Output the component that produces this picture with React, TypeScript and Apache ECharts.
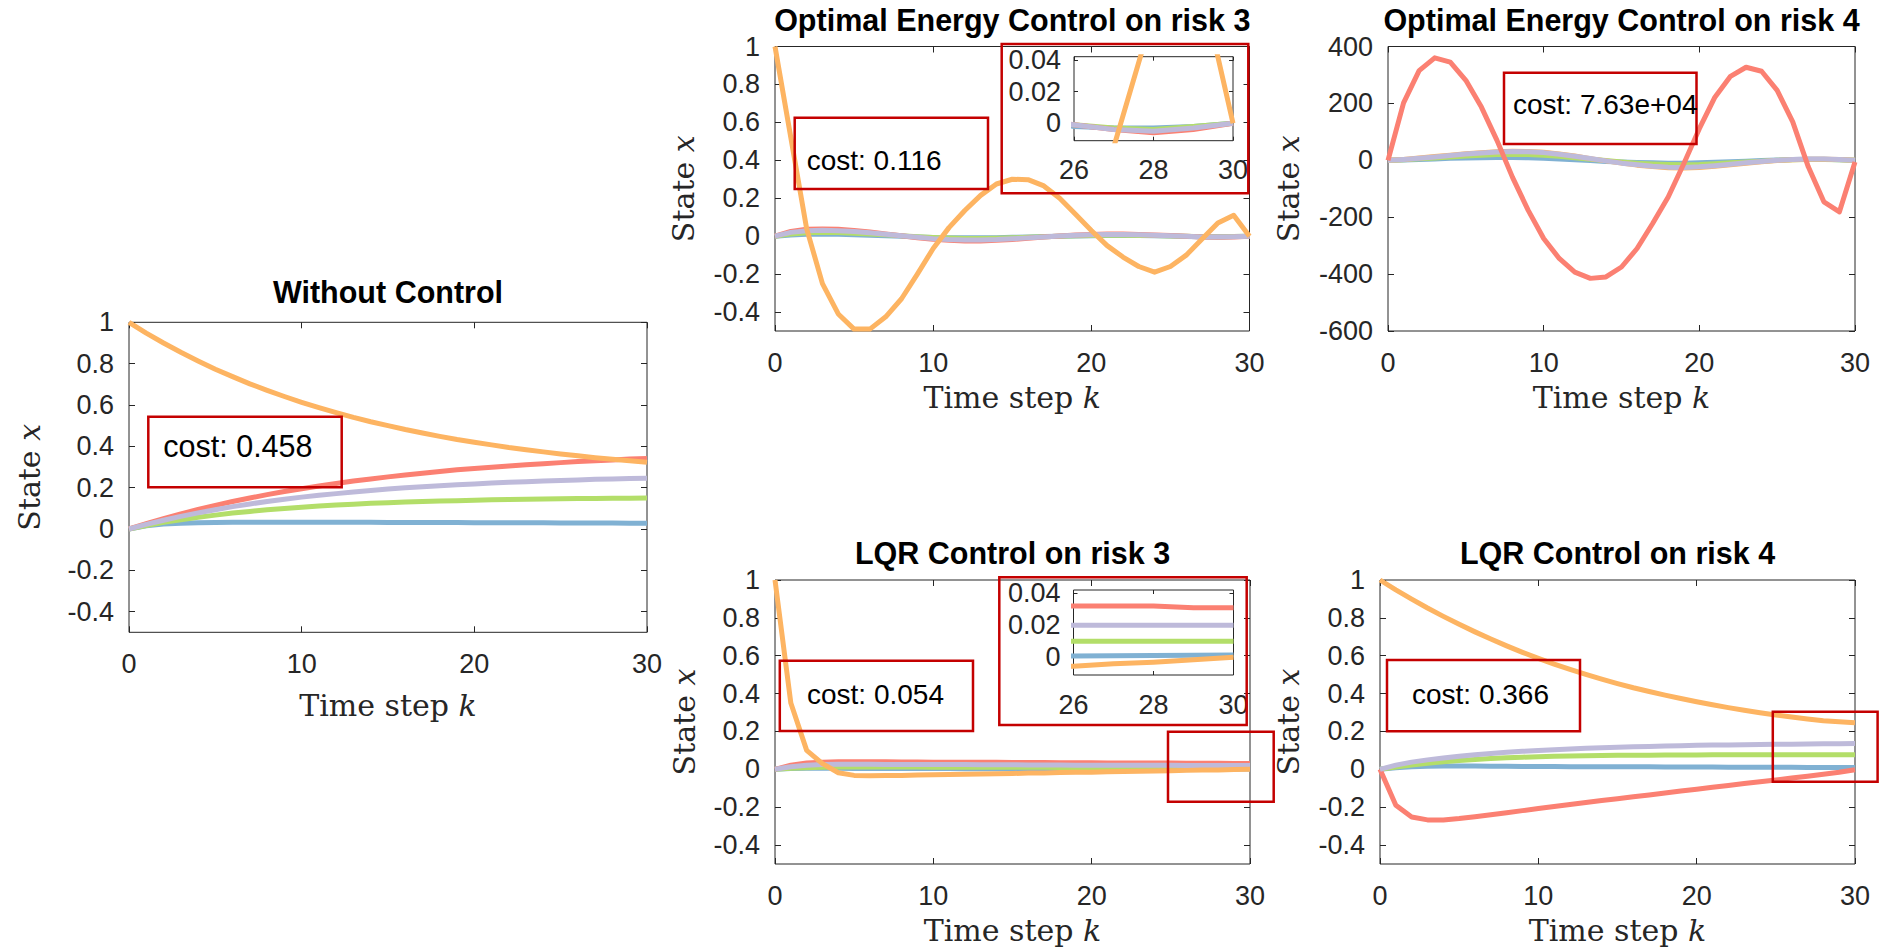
import React, { useEffect, useRef } from "react";
import * as echarts from "echarts";

// ---- data -------------------------------------------------------------
const steps = [0, 1, 2, 3, 4, 5, 6, 7, 8, 9, 10, 11, 12, 13, 14, 15, 16, 17, 18, 19, 20, 21, 22, 23, 24, 25, 26, 27, 28, 29, 30];

const stepTicks = [0, 10, 20, 30];
const unitTicks = [-0.4, -0.2, 0, 0.2, 0.4, 0.6, 0.8, 1];
const bigTicks = [-600, -400, -200, 0, 200, 400];
const zoomStepTicks = [26, 28, 30];
const zoomTicks = [0, 0.02, 0.04];

const titles = [
  "Without Control",
  "Optimal Energy Control on risk 3",
  "Optimal Energy Control on risk 4",
  "LQR Control on risk 3",
  "LQR Control on risk 4",
];
const costs = ["0.458", "0.116", "7.63e+04", "0.054", "0.366"];

// Without control
const freeBlue = [0, 0.015, 0.024, 0.028, 0.03, 0.031, 0.032, 0.032, 0.032, 0.032, 0.032, 0.032, 0.032, 0.032, 0.032, 0.031, 0.031, 0.031, 0.031, 0.031, 0.03, 0.03, 0.03, 0.03, 0.03, 0.029, 0.029, 0.029, 0.029, 0.028, 0.028];
const freeGreen = [0, 0.017, 0.032, 0.045, 0.057, 0.067, 0.077, 0.085, 0.093, 0.099, 0.105, 0.111, 0.116, 0.12, 0.124, 0.127, 0.13, 0.133, 0.135, 0.137, 0.139, 0.141, 0.142, 0.144, 0.145, 0.146, 0.147, 0.148, 0.149, 0.149, 0.15];
const freeRed = [0, 0.026, 0.05, 0.073, 0.094, 0.114, 0.133, 0.15, 0.166, 0.181, 0.195, 0.208, 0.22, 0.232, 0.242, 0.252, 0.261, 0.27, 0.278, 0.286, 0.293, 0.299, 0.305, 0.311, 0.316, 0.321, 0.326, 0.33, 0.334, 0.338, 0.341];
const freePurple = [0, 0.022, 0.042, 0.061, 0.078, 0.093, 0.108, 0.121, 0.133, 0.144, 0.154, 0.163, 0.171, 0.179, 0.186, 0.193, 0.199, 0.204, 0.209, 0.214, 0.218, 0.222, 0.226, 0.229, 0.232, 0.235, 0.237, 0.24, 0.242, 0.244, 0.245];
const freeOrange = [1, 0.948, 0.9, 0.855, 0.813, 0.773, 0.737, 0.702, 0.671, 0.641, 0.613, 0.587, 0.563, 0.54, 0.519, 0.5, 0.481, 0.464, 0.448, 0.433, 0.42, 0.407, 0.394, 0.383, 0.373, 0.363, 0.354, 0.345, 0.337, 0.33, 0.323];

// Optimal energy control on risk 3
const energy3Blue = [0, 0.006, 0.01, 0.011, 0.01, 0.008, 0.005, 0.002, -0.001, -0.004, -0.007, -0.008, -0.009, -0.009, -0.008, -0.006, -0.004, -0.002, 0, 0.001, 0.002, 0.003, 0.003, 0.003, 0.002, 0.001, -0.002, -0.003, -0.003, -0.002, 0];
const energy3Green = [0, 0.012, 0.018, 0.02, 0.019, 0.016, 0.012, 0.007, 0.002, -0.003, -0.007, -0.01, -0.012, -0.012, -0.011, -0.009, -0.006, -0.003, 0, 0.002, 0.004, 0.005, 0.005, 0.004, 0.003, 0.001, -0.001, -0.003, -0.004, -0.002, 0];
const energy3Red = [0, 0.025, 0.036, 0.038, 0.036, 0.03, 0.022, 0.012, 0.002, -0.008, -0.016, -0.022, -0.025, -0.025, -0.022, -0.017, -0.011, -0.005, 0.001, 0.006, 0.009, 0.011, 0.011, 0.009, 0.006, 0.003, -0.001, -0.004, -0.006, -0.004, 0];
const energy3Purple = [0, 0.02, 0.029, 0.031, 0.029, 0.024, 0.018, 0.01, 0.002, -0.006, -0.013, -0.018, -0.02, -0.02, -0.018, -0.014, -0.009, -0.004, 0.001, 0.005, 0.007, 0.009, 0.009, 0.007, 0.005, 0.002, -0.001, -0.004, -0.005, -0.003, 0];
const energy3Orange = [1, 0.52, 0.04, -0.25, -0.41, -0.49, -0.49, -0.425, -0.33, -0.2, -0.065, 0.045, 0.135, 0.215, 0.275, 0.3, 0.298, 0.265, 0.2, 0.115, 0.03, -0.05, -0.11, -0.16, -0.19, -0.16, -0.1, -0.015, 0.07, 0.11, 0];

// Optimal energy control on risk 4
const energy4Blue = [0, 1, 3, 5, 7, 8, 9, 10, 10, 9, 7, 5, 2, -1, -4, -6, -8, -9, -10, -10, -9, -7, -5, -3, -1, 1, 3, 4, 4, 2, 0];
const energy4Green = [0, 2, 5, 8, 12, 15, 18, 20, 21, 20, 18, 14, 9, 4, -1, -6, -10, -13, -15, -16, -15, -12, -9, -6, -3, 0, 2, 3, 3, 2, 0];
const energy4Orange = [0, 3, 8, 13, 18, 23, 27, 30, 32, 31, 28, 22, 15, 6, -2, -10, -17, -22, -26, -27, -25, -21, -16, -10, -5, -1, 2, 4, 4, 3, 0];
const energy4Purple = [0, 3, 7, 12, 17, 22, 26, 29, 31, 30, 27, 21, 14, 6, -2, -10, -16, -21, -24, -25, -23, -19, -14, -9, -4, 0, 3, 5, 5, 3, 0];
const energy4Red = [0, 202, 315, 360, 345, 281, 187, 70, -60, -175, -275, -345, -393, -415, -410, -375, -310, -222, -129, -12, 111, 222, 295, 327, 313, 246, 135, -23, -146, -181, -6];

// LQR control on risk 3
const lqr3Blue = [0, 0.004, 0.006, 0.006, 0.006, 0.005, 0.005, 0.005, 0.004, 0.004, 0.004, 0.004, 0.003, 0.003, 0.003, 0.003, 0.003, 0.002, 0.002, 0.002, 0.002, 0.002, 0.002, 0.001, 0.001, 0.001, 0.0008, 0.001, 0.0011, 0.0013, 0.0015];
const lqr3Green = [0, 0.006, 0.009, 0.011, 0.012, 0.012, 0.012, 0.012, 0.012, 0.012, 0.011, 0.011, 0.011, 0.011, 0.011, 0.011, 0.011, 0.011, 0.01, 0.01, 0.01, 0.01, 0.01, 0.01, 0.01, 0.01, 0.01, 0.01, 0.01, 0.01, 0.01];
const lqr3Red = [0, 0.022, 0.033, 0.038, 0.04, 0.04, 0.04, 0.04, 0.039, 0.039, 0.038, 0.038, 0.038, 0.037, 0.037, 0.036, 0.036, 0.036, 0.035, 0.035, 0.035, 0.034, 0.034, 0.034, 0.033, 0.033, 0.032, 0.032, 0.032, 0.031, 0.031];
const lqr3Purple = [0, 0.014, 0.022, 0.026, 0.027, 0.027, 0.027, 0.026, 0.026, 0.026, 0.025, 0.025, 0.025, 0.024, 0.024, 0.024, 0.023, 0.023, 0.023, 0.022, 0.022, 0.022, 0.021, 0.021, 0.021, 0.021, 0.02, 0.02, 0.02, 0.02, 0.02];
const lqr3Orange = [1, 0.35, 0.1, 0.03, -0.018, -0.032, -0.034, -0.033, -0.032, -0.03, -0.029, -0.027, -0.026, -0.024, -0.023, -0.022, -0.02, -0.019, -0.017, -0.016, -0.015, -0.013, -0.012, -0.01, -0.009, -0.007, -0.0055, -0.004, -0.003, -0.0015, 0];

// LQR control on risk 4
const lqr4Blue = [0, 0.008, 0.013, 0.016, 0.017, 0.017, 0.017, 0.016, 0.016, 0.015, 0.015, 0.015, 0.014, 0.014, 0.014, 0.013, 0.013, 0.013, 0.012, 0.012, 0.012, 0.012, 0.011, 0.011, 0.011, 0.011, 0.011, 0.01, 0.01, 0.01, 0.01];
const lqr4Green = [0, 0.012, 0.023, 0.032, 0.04, 0.047, 0.052, 0.057, 0.061, 0.064, 0.067, 0.069, 0.071, 0.072, 0.073, 0.074, 0.075, 0.075, 0.076, 0.076, 0.076, 0.077, 0.077, 0.077, 0.077, 0.077, 0.077, 0.077, 0.077, 0.077, 0.077];
const lqr4Red = [0, -0.19, -0.252, -0.267, -0.268, -0.26, -0.25, -0.24, -0.229, -0.218, -0.207, -0.196, -0.186, -0.175, -0.165, -0.155, -0.145, -0.135, -0.125, -0.115, -0.105, -0.095, -0.085, -0.075, -0.066, -0.056, -0.046, -0.036, -0.026, -0.015, -0.002];
const lqr4Purple = [0, 0.022, 0.038, 0.05, 0.06, 0.069, 0.077, 0.084, 0.09, 0.095, 0.1, 0.104, 0.108, 0.111, 0.114, 0.117, 0.119, 0.121, 0.123, 0.125, 0.127, 0.128, 0.129, 0.13, 0.131, 0.132, 0.133, 0.134, 0.135, 0.135, 0.136];
const lqr4Orange = [1, 0.948, 0.899, 0.852, 0.808, 0.766, 0.726, 0.688, 0.652, 0.618, 0.586, 0.556, 0.528, 0.501, 0.476, 0.453, 0.431, 0.411, 0.392, 0.374, 0.357, 0.341, 0.326, 0.312, 0.299, 0.287, 0.276, 0.266, 0.257, 0.251, 0.246];

// ---- styles -----------------------------------------------------------
const BLUE = "#80B1D3";
const GREEN = "#B3DE69";
const RED = "#FB8072";
const PURPLE = "#BEBADA";
const ORANGE = "#FDB462";
const AXIS = "#262626";
const BOX = "#C40000";
const SANS = "'Liberation Sans', Arial, Helvetica, sans-serif";
const SERIF = "'DejaVu Serif', serif";

type Line = { values: number[]; color: string };

const panelLines: Line[][] = [
  [
    { values: freeBlue, color: BLUE },
    { values: freeGreen, color: GREEN },
    { values: freeRed, color: RED },
    { values: freePurple, color: PURPLE },
    { values: freeOrange, color: ORANGE },
  ],
  [
    { values: energy3Blue, color: BLUE },
    { values: energy3Green, color: GREEN },
    { values: energy3Red, color: RED },
    { values: energy3Purple, color: PURPLE },
    { values: energy3Orange, color: ORANGE },
  ],
  [
    { values: energy4Blue, color: BLUE },
    { values: energy4Green, color: GREEN },
    { values: energy4Orange, color: ORANGE },
    { values: energy4Purple, color: PURPLE },
    { values: energy4Red, color: RED },
  ],
  [
    { values: lqr3Blue, color: BLUE },
    { values: lqr3Green, color: GREEN },
    { values: lqr3Red, color: RED },
    { values: lqr3Purple, color: PURPLE },
    { values: lqr3Orange, color: ORANGE },
  ],
  [
    { values: lqr4Blue, color: BLUE },
    { values: lqr4Green, color: GREEN },
    { values: lqr4Red, color: RED },
    { values: lqr4Purple, color: PURPLE },
    { values: lqr4Orange, color: ORANGE },
  ],
];

// Axes boxes in pixels, with title / axis-label anchors
const panels = [
  { left: 129, top: 322.3, width: 518, height: 310, titleY: 292, xLabelY: 705, yLabelX: 29.5, yMin: -0.5, yMax: 1, yTicks: unitTicks },
  { left: 775, top: 46.5, width: 474.5, height: 284.5, titleY: 19.5, xLabelY: 397, yLabelX: 683.7, yMin: -0.5, yMax: 1, yTicks: unitTicks },
  { left: 1388, top: 46.5, width: 467, height: 284.5, titleY: 19.5, xLabelY: 397, yLabelX: 1288.5, yMin: -600, yMax: 400, yTicks: bigTicks },
  { left: 775, top: 580, width: 475, height: 284, titleY: 553, xLabelY: 930, yLabelX: 684.5, yMin: -0.5, yMax: 1, yTicks: unitTicks },
  { left: 1380, top: 580, width: 475, height: 284, titleY: 553, xLabelY: 930, yLabelX: 1288.5, yMin: -0.5, yMax: 1, yTicks: unitTicks },
];

// Magnified views of the last steps (source panel index)
const insets = [
  { source: 1, left: 1074, top: 56.7, width: 159, height: 84 },
  { source: 3, left: 1073.5, top: 590, width: 160, height: 85 },
];

// Cost text boxes
const costBoxes = [
  { x: 148.3, y: 416.7, w: 193.4, h: 70.6, tx: 163.3, ty: 446.3, size: 30.5 },
  { x: 794.7, y: 117.7, w: 193.3, h: 71.3, tx: 806.7, ty: 160.5, size: 28 },
  { x: 1504, y: 72.7, w: 192.5, h: 71.3, tx: 1513, ty: 104, size: 28 },
  { x: 779.8, y: 660.7, w: 193.2, h: 70.3, tx: 807, ty: 694, size: 28 },
  { x: 1387, y: 660, w: 193, h: 71.3, tx: 1412, ty: 694, size: 28 },
];

// Red frames marking the zoomed regions
const frames = [
  { x: 1001.7, y: 44, w: 246.6, h: 149.3 },
  { x: 999.3, y: 577.3, w: 247.4, h: 147.7 },
  { x: 1168, y: 731.7, w: 105.7, h: 70 },
  { x: 1772.8, y: 711.7, w: 104.8, h: 70 },
];

const fmt = (v: number) => String(Math.round(v * 1000) / 1000);

function axis(kind: "x" | "y", gridIndex: number, position: string, min: number, max: number, ticks: number[], labels: boolean, small: boolean) {
  const isX = kind === "x";
  return {
    type: "value",
    gridIndex,
    position,
    min,
    max,
    axisLine: { show: false, onZero: false },
    splitLine: { show: false },
    axisTick: {
      show: true,
      inside: true,
      length: small ? 4 : 6,
      customValues: ticks,
      lineStyle: { color: AXIS, width: 1 },
    },
    axisLabel: labels
      ? {
          show: true,
          customValues: ticks,
          margin: isX ? (small ? 16 : 18) : small ? 13 : 15,
          fontSize: 27,
          fontFamily: SANS,
          color: AXIS,
          formatter: fmt,
          showMinLabel: true,
          showMaxLabel: true,
        }
      : { show: false },
  };
}

function buildOption() {
  const grid: any[] = [];
  const xAxis: any[] = [];
  const yAxis: any[] = [];
  const series: any[] = [];
  const graphic: any[] = [];

  const addLines = (lines: Line[], axisIndex: number) => {
    lines.forEach((ln) => {
      series.push({
        type: "line",
        xAxisIndex: axisIndex,
        yAxisIndex: axisIndex,
        data: steps.map((k, i) => [k, ln.values[i]]),
        showSymbol: false,
        symbol: "none",
        clip: true,
        silent: true,
        lineStyle: { color: ln.color, width: 5, join: "round" },
        itemStyle: { color: ln.color },
      });
    });
  };

  panels.forEach((p, g) => {
    grid.push({
      left: p.left,
      top: p.top,
      width: p.width,
      height: p.height,
      show: true,
      borderColor: AXIS,
      borderWidth: 1,
      backgroundColor: "#fff",
      containLabel: false,
      outerBoundsMode: "none",
    });
    xAxis.push(axis("x", g, "bottom", 0, 30, stepTicks, true, false));
    xAxis.push(axis("x", g, "top", 0, 30, stepTicks, false, false));
    yAxis.push(axis("y", g, "left", p.yMin, p.yMax, p.yTicks, true, false));
    yAxis.push(axis("y", g, "right", p.yMin, p.yMax, p.yTicks, false, false));
    addLines(panelLines[g], g * 2);

    const cx = p.left + p.width / 2;
    const cy = p.top + p.height / 2;
    graphic.push({
      type: "text",
      x: cx,
      y: p.titleY,
      z: 100,
      silent: true,
      style: {
        text: titles[g],
        fill: "#000",
        font: `bold 30.5px ${SANS}`,
        align: "center",
        verticalAlign: "middle",
        textAlign: "center",
        textVerticalAlign: "middle",
      },
    });
    graphic.push({
      type: "text",
      x: cx,
      y: p.xLabelY,
      z: 100,
      silent: true,
      style: {
        text: "Time step {i|k}",
        fill: AXIS,
        font: `30px ${SERIF}`,
        align: "center",
        verticalAlign: "middle",
        textAlign: "center",
        textVerticalAlign: "middle",
        rich: { i: { fontStyle: "italic", fontSize: 30, fontFamily: SERIF, fill: AXIS } },
      },
    });
    graphic.push({
      type: "text",
      x: p.yLabelX,
      y: cy,
      rotation: Math.PI / 2,
      z: 100,
      silent: true,
      style: {
        text: "State {i|x}",
        fill: AXIS,
        font: `30px ${SERIF}`,
        align: "center",
        verticalAlign: "middle",
        textAlign: "center",
        textVerticalAlign: "middle",
        rich: { i: { fontStyle: "italic", fontSize: 30, fontFamily: SERIF, fill: AXIS } },
      },
    });
  });

  insets.forEach((ins, j) => {
    const g = panels.length + j;
    grid.push({
      left: ins.left,
      top: ins.top,
      width: ins.width,
      height: ins.height,
      show: true,
      borderColor: AXIS,
      borderWidth: 1,
      backgroundColor: "#fff",
      containLabel: false,
      outerBoundsMode: "none",
    });
    xAxis.push(axis("x", g, "bottom", 26, 30, zoomStepTicks, true, true));
    xAxis.push(axis("x", g, "top", 26, 30, zoomStepTicks, false, true));
    yAxis.push(axis("y", g, "left", -0.011, 0.042, zoomTicks, true, true));
    yAxis.push(axis("y", g, "right", -0.011, 0.042, zoomTicks, false, true));
    addLines(panelLines[ins.source], g * 2);
  });

  costBoxes.forEach((b, i) => {
    graphic.push({
      type: "rect",
      z: 100,
      silent: true,
      shape: { x: b.x, y: b.y, width: b.w, height: b.h },
      style: { fill: "none", stroke: BOX, lineWidth: 2.5 },
    });
    graphic.push({
      type: "text",
      x: b.tx,
      y: b.ty,
      z: 101,
      silent: true,
      style: {
        text: `cost: ${costs[i]}`,
        fill: "#000",
        font: `${b.size}px ${SANS}`,
        align: "left",
        verticalAlign: "middle",
        textAlign: "left",
        textVerticalAlign: "middle",
      },
    });
  });

  frames.forEach((f) => {
    graphic.push({
      type: "rect",
      z: 100,
      silent: true,
      shape: { x: f.x, y: f.y, width: f.w, height: f.h },
      style: { fill: "none", stroke: BOX, lineWidth: 2.5 },
    });
  });

  return {
    animation: false,
    backgroundColor: "#fff",
    grid,
    xAxis,
    yAxis,
    series,
    graphic,
  };
}

export default function App() {
  const ref = useRef<HTMLDivElement>(null);
  useEffect(() => {
    if (!ref.current) return;
    const chart = echarts.init(ref.current, null, { renderer: "svg" });
    chart.setOption(buildOption() as any);
    return () => chart.dispose();
  }, []);
  return (
    <div
      ref={ref}
      style={{ position: "absolute", left: 0, top: 0, width: 1880, height: 948, background: "#fff" }}
    />
  );
}
